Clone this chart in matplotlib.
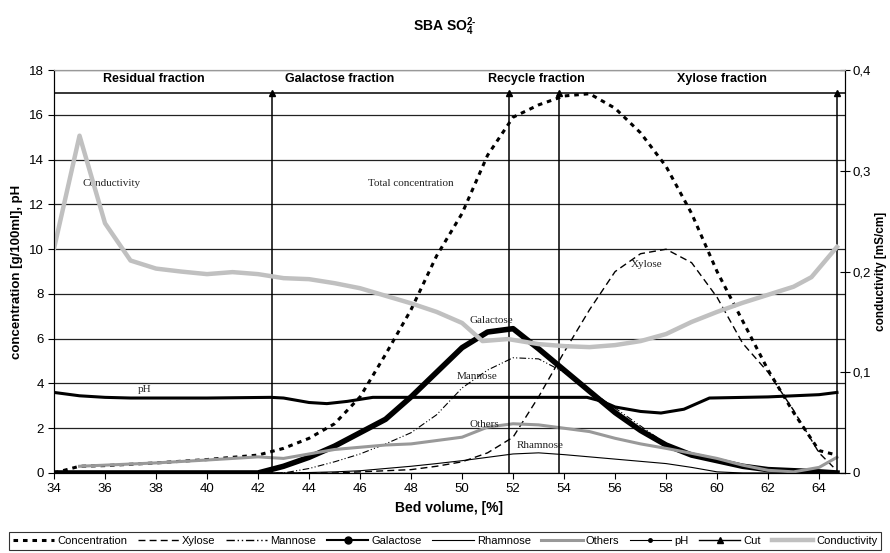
import matplotlib
matplotlib.use("Agg")
import matplotlib.pyplot as plt
from matplotlib.lines import Line2D
import numpy as np

plt.rcParams['font.family'] = ['Liberation Sans', 'DejaVu Sans']
plt.rcParams['mathtext.fontset'] = 'custom'
plt.rcParams['mathtext.rm'] = 'Liberation Sans:bold'
plt.rcParams['mathtext.it'] = 'Liberation Sans:bold'
plt.rcParams['mathtext.bf'] = 'Liberation Sans:bold'

# bed volume [%] and measured series
conc_x = [34, 35, 36, 38, 40, 42, 43, 44, 45, 46, 47, 48, 49, 50, 51, 52, 53, 54, 55, 56,
          57, 58, 59, 60, 61, 62, 63, 64, 64.7]
conc_y = [0, 0.3, 0.33, 0.45, 0.6, 0.8, 1.1, 1.55, 2.2, 3.4, 5.3, 7.3, 9.7, 11.6, 14.2, 15.9,
          16.45, 16.85, 16.95, 16.3, 15.2, 13.7, 11.6, 9.0, 6.8, 4.6, 2.7, 1.0, 0.8]

sug_x = [34, 42, 43, 44, 45, 46, 47, 48, 49, 50, 51, 52, 53, 54, 55, 56, 57, 58, 59, 60,
         61, 62, 63, 64, 64.7]
xylose = [0, 0, 0, 0, 0, 0.05, 0.1, 0.15, 0.3, 0.5, 0.9, 1.6, 3.4, 5.4, 7.3, 9.0, 9.8, 10.0,
          9.4, 7.85, 5.8, 4.5, 2.8, 0.9, 0.1]
mannose = [0, 0, 0, 0.2, 0.5, 0.85, 1.3, 1.8, 2.6, 3.8, 4.6, 5.15, 5.1, 4.5, 3.7, 2.9, 2.1,
           1.3, 0.8, 0.5, 0.3, 0.1, 0.05, 0, 0]
galactose = [0, 0, 0.3, 0.7, 1.2, 1.8, 2.4, 3.4, 4.5, 5.6, 6.3, 6.45, 5.55, 4.6, 3.65, 2.7,
             1.9, 1.25, 0.8, 0.55, 0.3, 0.15, 0.1, 0.05, 0]
rhamnose = [0, 0, 0, 0.02, 0.05, 0.1, 0.2, 0.3, 0.42, 0.55, 0.7, 0.85, 0.9, 0.82, 0.72, 0.62,
            0.52, 0.42, 0.25, 0.05, 0, 0, 0, 0, 0]

oth_x = [35, 36, 38, 40, 42, 43, 44, 45, 46, 47, 48, 49, 50, 51, 52, 53, 54, 55, 56, 57, 58,
         59, 60, 61, 62, 63, 64, 64.7]
others = [0.3, 0.35, 0.45, 0.58, 0.72, 0.65, 0.85, 1.05, 1.15, 1.25, 1.3, 1.45, 1.6, 2.05, 2.2,
          2.15, 2.0, 1.85, 1.55, 1.3, 1.1, 0.88, 0.65, 0.35, 0.12, 0.05, 0.25, 0.7]

ph_x = [34, 35, 36, 37, 40, 42.5, 43, 44, 44.7, 45.5, 46.5, 50, 54.9, 55.5, 56, 57, 57.8, 58.7,
        59.7, 62, 64, 64.7]
ph = [3.6, 3.45, 3.38, 3.35, 3.35, 3.38, 3.35, 3.15, 3.1, 3.2, 3.38, 3.38, 3.38, 3.2, 2.95,
      2.75, 2.68, 2.85, 3.35, 3.4, 3.5, 3.6]

cond_x = [34, 35, 36, 37, 38, 39, 40, 41, 42, 43, 44, 45, 46, 47, 48, 49, 50, 50.8, 51.8, 53,
          54, 55, 56, 57, 58, 59, 60, 61, 62, 63, 63.7, 64.7]
cond = [0.223, 0.335, 0.248, 0.211, 0.203, 0.2, 0.1975, 0.1995, 0.1975, 0.1935, 0.1925, 0.1885,
        0.1835, 0.176, 0.1685, 0.16, 0.149, 0.131, 0.133, 0.128, 0.126, 0.125, 0.127, 0.131,
        0.138, 0.15, 0.16, 0.169, 0.177, 0.185, 0.1945, 0.2245]

cut_x = [42.55, 51.85, 53.8, 64.7]
cut_level = 17

fractions = ['Residual fraction', 'Galactose fraction', 'Recycle fraction', 'Xylose fraction']
fraction_x = [37.9, 45.2, 52.9, 60.2]

labels = ['Conductivity', 'Total concentration', 'Xylose', 'Galactose', 'Mannose', 'Others',
          'Rhamnose', 'pH']
label_x = [35.1, 46.3, 56.6, 50.3, 49.8, 50.3, 52.15, 37.3]
label_y = [12.95, 12.95, 9.3, 6.8, 4.3, 2.15, 1.25, 3.75]

fig = plt.figure(figsize=(8.9, 5.53), dpi=100)
ax = fig.add_axes([0.0607, 0.1447, 0.949 - 0.0607, 0.873 - 0.1447])
ax2 = ax.twinx()

ax.set_xlim(34, 65)
ax.set_ylim(0, 18)
ax2.set_ylim(0, 0.4)

ax.set_xticks(np.arange(34, 65, 2))
ax.set_yticks(np.arange(0, 19, 2))
ax.yaxis.grid(True, color='#222222', lw=0.9)
ax.set_axisbelow(True)
ax.tick_params(labelsize=9.5, direction='out', length=4, width=0.8)
ax2.set_yticks([0, 0.1, 0.2, 0.3, 0.4])
ax2.set_yticklabels(['0', '0,1', '0,2', '0,3', '0,4'])
ax2.tick_params(labelsize=9.5, direction='inout', length=7, width=0.8, pad=2)
for a in (ax, ax2):
    a.spines['top'].set_color('#999999')

conc_line, = ax.plot(conc_x, conc_y, color='black', lw=2.2, ls=(0, (1.5, 1.6)))
xyl_line, = ax.plot(sug_x, xylose, color='black', lw=1.0, ls=(0, (5, 3)))
man_line, = ax.plot(sug_x, mannose, color='black', lw=0.8, ls=(0, (6, 2, 1, 2, 1, 2)))
gal_line, = ax.plot(sug_x, galactose, color='black', lw=4)
rha_line, = ax.plot(sug_x, rhamnose, color='black', lw=0.8)
oth_line, = ax.plot(oth_x, others, color='#999999', lw=2.2)
ph_line, = ax.plot(ph_x, ph, color='black', lw=2.2)

ax.axhline(cut_level, color='black', lw=1.1)
for cx in cut_x:
    ax.plot([cx, cx], [0, cut_level], color='black', lw=1.1, marker='^', markersize=5,
            markevery=[1], clip_on=False)

cond_line, = ax2.plot(cond_x, cond, color='#c0c0c0', lw=3.2)

for name, fx in zip(fractions, fraction_x):
    ax.text(fx, 17.6, name, ha='center', va='center', fontsize=9, fontweight='bold')

for name, lx, ly in zip(labels, label_x, label_y):
    ax.text(lx, ly, name, ha='left', va='center', fontsize=8,
            family=['Liberation Serif', 'DejaVu Serif'], color='#222222')

ax.set_xlabel('Bed volume, [%]', fontsize=10, fontweight='bold', labelpad=4)
ax.set_ylabel('concentration [g/100ml], pH', fontsize=9.5, fontweight='bold', labelpad=4)
ax2.set_ylabel('conductivity [mS/cm]', fontsize=8.5, fontweight='bold', labelpad=3)

fig.text(0.5, 0.952, r'SBA SO$_4^{2\text{-}}$', ha='center', va='center', fontsize=10,
         fontweight='bold')

handles = [
    Line2D([], [], color='black', lw=2.2, ls=(0, (1.5, 1.6))),
    Line2D([], [], color='black', lw=1.0, ls=(0, (5, 3))),
    Line2D([], [], color='black', lw=1.0, ls=(0, (6, 2, 1, 2, 1, 2))),
    Line2D([], [], color='black', lw=1.5, marker='o', markersize=5),
    Line2D([], [], color='black', lw=0.8),
    Line2D([], [], color='#999999', lw=2.2),
    Line2D([], [], color='black', lw=0.8, marker='o', markersize=2.5),
    Line2D([], [], color='black', lw=1.0, marker='^', markersize=5),
    Line2D([], [], color='#c0c0c0', lw=3.2),
]
names = ['Concentration', 'Xylose', 'Mannose', 'Galactose', 'Rhamnose', 'Others', 'pH', 'Cut',
         'Conductivity']
leg = fig.legend(handles, names, loc='lower center', bbox_to_anchor=(0.5, 0.0), ncol=9,
                 fontsize=8, frameon=True, fancybox=False, edgecolor='black',
                 handlelength=3.7, handletextpad=0.3, columnspacing=0.95, borderpad=0.35,
                 borderaxespad=0.3)
leg.get_frame().set_linewidth(0.8)

fig.savefig('out.png', dpi=100)
